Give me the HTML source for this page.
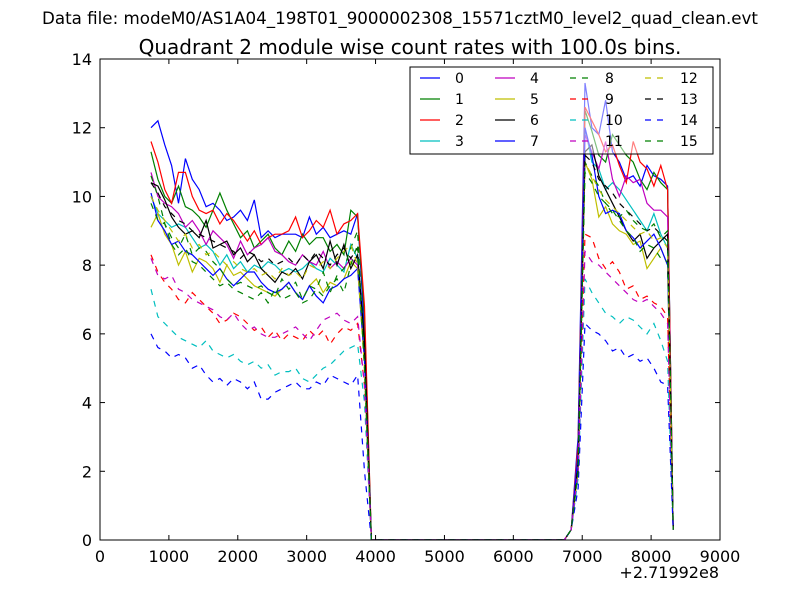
<!DOCTYPE html>
<html><head><meta charset="utf-8"><style>
body{margin:0;background:#fff;}
svg text{font-family:"DejaVu Sans","Liberation Sans",sans-serif;}
</style></head><body>
<svg id="chart" width="800" height="600" xmlns="http://www.w3.org/2000/svg">
<rect width="800" height="600" fill="#fff"/>
<text x="400" y="24" font-size="16.7" text-anchor="middle">Data file: modeM0/AS1A04_198T01_9000002308_15571cztM0_level2_quad_clean.evt</text>
<text x="410" y="54" font-size="20" text-anchor="middle">Quadrant 2 module wise count rates with 100.0s bins.</text>
<g id="plot"></g>
<g id="legend"></g>
<g id="axes"></g>
</svg>
<script>
const timesA=[740,840,940,1040,1140,1240,1340,1440,1540,1640,1740,1840,1940,2040,2140,2240,2340,2440,2540,2640,2740,2840,2940,3040,3140,3240,3340,3440,3540,3640,3740];
const tMid=3840, tDrop=3940, tZero1=4040, tZero2=6740, tRise0=6840, tRise=6940, tEnd=8320;
const timesB=[7040,7140,7240,7340,7440,7540,7640,7740,7840,7940,8040,8140,8240];
const seriesLabels=["0","1","2","3","4","5","6","7","8","9","10","11","12","13","14","15"];
const segA=[
[12.0,12.2,11.5,10.9,9.8,11.1,10.5,10.2,9.7,9.8,9.6,9.3,9.4,9.6,9.3,9.9,8.8,9.0,8.8,8.9,8.9,8.9,8.8,9.4,8.9,9.1,8.8,8.9,9.0,8.9,9.5],
[11.3,10.5,10.0,9.8,10.3,9.7,9.6,9.4,9.1,9.6,10.1,9.6,9.2,8.8,9.0,8.5,8.7,8.9,8.5,8.3,8.7,8.4,8.9,8.6,8.8,8.8,8.4,8.6,8.3,9.6,9.4],
[11.6,11.0,10.2,9.8,10.7,10.7,10.0,9.6,9.5,9.6,9.2,9.5,9.3,9.0,8.7,9.0,8.6,8.8,8.9,8.9,9.0,9.4,8.8,9.0,9.3,9.1,9.6,8.9,9.2,9.3,9.5],
[10.0,9.5,9.3,9.1,9.2,9.1,8.8,8.5,8.6,8.4,8.0,8.3,7.9,8.1,7.8,8.0,7.9,8.1,8.0,7.8,7.9,7.8,7.9,8.1,7.9,7.8,8.2,8.0,7.8,8.6,8.2],
[10.7,10.0,9.8,9.7,9.5,9.1,9.3,9.0,8.6,9.0,8.8,8.6,8.2,8.7,8.3,8.5,8.6,8.8,8.4,8.3,8.1,8.0,8.3,8.1,8.0,8.4,7.9,8.1,7.9,8.2,8.0],
[9.1,9.5,8.9,8.6,8.0,8.4,7.8,8.2,8.1,7.9,7.5,8.0,7.7,7.8,7.6,7.4,7.3,7.2,7.1,7.3,7.5,7.2,7.0,7.4,7.6,7.2,7.5,7.4,7.6,8.1,7.9],
[10.4,10.3,9.9,9.4,9.1,8.9,9.0,8.8,9.3,8.5,8.6,8.7,8.3,8.5,8.1,8.3,7.9,7.7,7.5,7.8,7.7,7.9,7.6,8.1,8.3,7.9,8.7,8.0,8.6,7.9,8.3],
[10.1,9.3,9.0,8.6,8.7,8.4,8.3,8.1,7.9,7.7,7.9,7.6,7.4,7.6,7.8,7.8,7.5,7.3,7.2,7.3,7.5,7.2,7.0,7.4,7.1,6.9,7.3,7.4,7.6,7.7,7.9],
[9.8,9.3,9.2,8.8,8.5,8.9,8.3,8.5,8.4,8.1,7.9,7.6,7.4,7.5,7.4,7.3,7.4,7.2,7.1,7.6,7.3,7.5,7.0,7.4,7.3,7.8,7.2,7.7,7.9,8.5,9.0],
[8.3,7.8,7.5,7.3,7.0,6.9,7.2,7.0,6.8,6.6,6.3,6.4,6.6,6.5,6.3,6.1,6.2,5.9,6.1,5.8,6.0,5.9,5.8,6.1,5.9,6.1,5.7,6.0,6.2,6.1,6.3],
[7.3,6.5,6.3,6.1,5.9,5.8,5.7,5.6,5.8,5.5,5.4,5.3,5.4,5.2,5.1,5.2,5.0,5.1,4.8,4.9,4.9,5.0,4.7,4.6,4.8,5.0,5.1,5.3,5.5,5.6,5.7],
[8.2,7.7,7.6,7.7,7.3,7.2,7.0,6.9,6.8,6.7,6.5,6.4,6.6,6.3,6.1,6.2,6.0,5.9,5.9,6.0,6.1,6.2,6.0,5.8,6.1,6.4,6.5,6.6,6.4,6.3,6.5],
[10.0,9.6,9.3,9.0,8.7,8.9,8.5,8.6,8.3,8.4,8.2,8.0,8.1,7.9,7.8,7.9,7.7,7.8,7.6,7.9,7.7,7.8,7.6,8.0,7.9,8.1,7.9,8.2,8.4,8.6,8.0],
[10.4,10.1,9.7,9.5,9.3,9.2,9.0,8.9,8.8,8.7,8.6,8.5,8.4,8.2,8.4,8.3,8.1,8.2,8.0,8.1,8.2,8.0,8.3,8.1,8.4,8.2,8.0,8.3,8.5,8.2,8.5],
[6.0,5.6,5.5,5.3,5.4,5.3,5.0,5.1,4.8,4.6,4.7,4.5,4.7,4.6,4.4,4.6,4.1,4.1,4.3,4.4,4.5,4.6,4.4,4.4,4.6,4.5,4.8,4.7,4.6,4.5,4.8],
[10.6,10.0,9.2,8.6,8.3,8.5,8.1,8.0,7.8,7.6,7.4,7.5,7.3,7.2,7.1,7.0,7.2,6.9,7.3,7.0,7.1,7.2,6.9,7.0,7.3,7.1,7.4,7.6,7.2,8.0,8.6]];
const midVals=[6.0,6.5,6.8,5.5,5.5,5.5,5.8,5.2,5.0,4.5,4.0,4.5,5.0,5.5,2.0,5.0];
const riseVals=[3.0,2.5,2.8,2.5,2.4,2.3,2.2,2.5,2.0,2.0,1.8,2.0,2.0,2.2,1.5,2.0];
const segB=[
[13.3,12.0,11.8,12.8,11.3,11.0,10.5,10.6,10.3,10.9,10.6,10.5,10.3],
[12.5,11.9,11.2,11.0,11.8,11.5,11.2,11.0,10.5,10.2,10.7,10.4,10.2],
[12.6,12.2,11.8,11.3,11.5,10.9,10.4,11.6,11.0,10.8,10.3,10.9,10.2],
[12.0,11.0,10.8,10.2,10.4,10.2,9.9,9.6,9.3,9.0,9.5,8.9,8.5],
[11.8,11.3,10.8,11.6,10.5,10.0,10.6,10.4,10.5,9.8,9.6,9.6,9.4],
[11.0,10.5,9.4,9.7,9.2,9.0,8.9,8.6,8.7,7.9,8.2,8.5,8.0],
[11.3,11.5,10.6,10.2,9.8,9.4,9.0,8.7,8.9,8.2,8.5,8.7,8.9],
[12.0,11.2,10.0,9.5,9.6,9.5,9.0,8.8,8.5,8.7,8.9,8.5,8.0],
[11.0,10.6,10.3,9.8,9.6,9.3,9.0,8.8,8.4,8.6,8.5,8.2,8.1],
[8.9,8.8,8.2,7.9,8.1,7.8,7.3,7.4,7.0,7.1,6.9,6.8,6.5],
[7.6,7.2,6.9,6.6,6.5,6.3,6.5,6.4,6.2,6.0,6.3,5.8,5.2],
[8.4,8.1,8.0,7.8,7.6,7.4,7.2,7.0,6.9,7.0,6.8,6.6,6.3],
[11.0,10.6,10.2,9.9,9.7,9.5,9.3,9.1,8.9,9.0,8.7,8.8,8.5],
[11.2,11.0,10.5,10.3,10.1,9.8,9.6,9.4,9.2,9.0,9.1,8.9,8.7],
[6.3,6.1,6.0,5.8,5.5,5.6,5.3,5.4,5.2,5.3,5.0,4.6,4.5],
[10.7,10.4,10.0,9.8,9.5,9.4,9.6,9.3,9.1,9.0,9.2,8.8,9.0]];
const endVal=0.3;
const xTicks=[0,1000,2000,3000,4000,5000,6000,7000,8000,9000];
const yTicks=[0,2,4,6,8,10,12,14];

const NS="http://www.w3.org/2000/svg";
const L=100,R=720,T=59,B=540,XMAX=9000,YMAX=14;
const xs=v=>L+(v/XMAX)*(R-L), ys=v=>B-(v/YMAX)*(B-T);
const colors=["#0000ff","#008000","#ff0000","#00bfbf","#bf00bf","#bfbf00","#000000"];
function mk(t,a,p){const e=document.createElementNS(NS,t);for(const k in a)e.setAttribute(k,a[k]);p.appendChild(e);return e;}
const plot=document.getElementById('plot');
const clip=mk('clipPath',{id:'cp'},plot);mk('rect',{x:L,y:T,width:R-L,height:B-T},clip);
const lines=mk('g',{'clip-path':'url(#cp)'},plot);
for(let i=0;i<16;i++){
  const t=[...timesA,tMid,tDrop,tZero1,tZero2,tRise0,tRise,...timesB,tEnd];
  const v=[...segA[i],midVals[i],0,0,0,0.3,riseVals[i],...segB[i],endVal];
  const d=t.map((x,j)=>(j?'L':'M')+xs(x).toFixed(1)+','+ys(v[j]).toFixed(1)).join('');
  const p=mk('path',{d:d,fill:'none',stroke:colors[i%7],'stroke-width':1.2},lines);
  if(i>=8)p.setAttribute('stroke-dasharray','6,6');
  
  
}
const ax=document.getElementById('axes');
mk('rect',{x:L,y:T,width:R-L,height:B-T,fill:'none',stroke:'#000','stroke-width':1},ax);
xTicks.forEach(t=>{const x=xs(t);
  mk('line',{x1:x,x2:x,y1:B,y2:B-5,stroke:'#000'},ax);mk('line',{x1:x,x2:x,y1:T,y2:T+5,stroke:'#000'},ax);
  const tx=mk('text',{x:x,y:B+22,'font-size':16,'text-anchor':'middle'},ax);tx.textContent=t;
  
  });
yTicks.forEach(t=>{const y=ys(t);
  mk('line',{x1:L,x2:L+5,y1:y,y2:y,stroke:'#000'},ax);mk('line',{x1:R,x2:R-5,y1:y,y2:y,stroke:'#000'},ax);
  const tx=mk('text',{x:L-8,y:y+6,'font-size':16,'text-anchor':'end'},ax);tx.textContent=t;
  
  });
const off=mk('text',{x:719,y:578,'font-size':16,'text-anchor':'end'},ax);off.textContent='+2.71992e8';


const lg=document.getElementById('legend');
mk('rect',{x:410,y:67,width:303,height:87,fill:'#fff','fill-opacity':0.5,stroke:'#000','stroke-width':1},lg);
for(let i=0;i<16;i++){const col=Math.floor(i/4),row=i%4;
  const x0=420+col*75,y0=78+row*21;
  const g=mk('g',{},lg);
  
  
  const ln=mk('line',{x1:x0,x2:x0+20,y1:y0,y2:y0,stroke:colors[i%7],'stroke-width':1.2},g);
  if(i>=8)ln.setAttribute('stroke-dasharray','6,6');
  const tx=mk('text',{x:x0+35,y:y0+5,'font-size':14},g);tx.textContent=seriesLabels[i];}
</script>
</body></html>
